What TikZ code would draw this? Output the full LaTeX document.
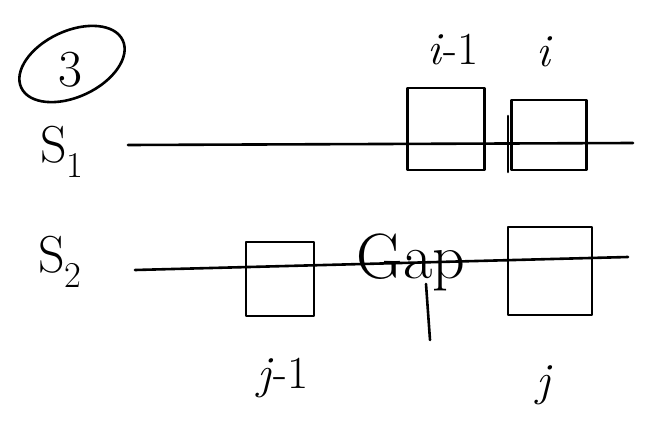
\documentclass[tikz,border=0pt]{standalone}
\usetikzlibrary{shapes.geometric}
\begin{document}
\begin{tikzpicture}[x=1pt,y=-1pt,
  ink/.style={draw=black,line width=2.6pt,line cap=round,line join=round},
  cell/.style={ink,rectangle,inner sep=0pt},
  lbl/.style={font=\fontsize{46}{46}\selectfont,inner sep=0pt}]
\useasboundingbox[fill=white] (0,0) rectangle (645,444);
% circled number
\node[ink,ellipse,minimum width=112pt,minimum height=66pt,rotate=25] (circ) at (72,64) {};
\node[lbl,font=\fontsize{52}{52}\selectfont] (three) at (70,70) {3};
% sequence labels
\node[lbl,font=\fontsize{52}{52}\selectfont] (s1) at (62,152) {S\textsubscript{1}};
\node[lbl,font=\fontsize{52}{52}\selectfont] (s2) at (60,262) {S\textsubscript{2}};
% sequence lines
\coordinate (s1a) at (128,145);
\coordinate (s1b) at (633,143);
\draw[ink] (s1a) -- (s1b);
\coordinate (s2a) at (135,270);
\coordinate (s2b) at (628,257);
\draw[ink] (s2a) -- (s2b);
% S1 cells
\node[cell,minimum width=77pt,minimum height=82pt] (bi1) at (446,129) {};
\node[cell,minimum width=75pt,minimum height=70pt] (bi) at (549,135) {};
\coordinate (bar1) at (508,116);
\coordinate (bar2) at (508,172);
\draw[ink] (bar1) -- (bar2);
\node[lbl] (li1) at (453,50) {\textit{i}-1};
\node[lbl] (li) at (545,52) {\textit{i}};
% S2 cells
\node[cell,minimum width=68pt,minimum height=74pt] (bj1) at (280,279) {};
\node[cell,minimum width=84pt,minimum height=88pt] (bj) at (550,271) {};
\node[lbl] (lj1) at (283,378) {\textit{j}-1};
\node[lbl] (lj) at (545,385) {\textit{j}};
% gap label
\node[lbl,font=\fontsize{64}{64}\selectfont] (gap) at (411,262) {Gap};
\coordinate (ptop) at (426,284);
\coordinate (tail) at (430,340);
\draw[ink] (ptop) -- (tail);
\end{tikzpicture}
\end{document}
